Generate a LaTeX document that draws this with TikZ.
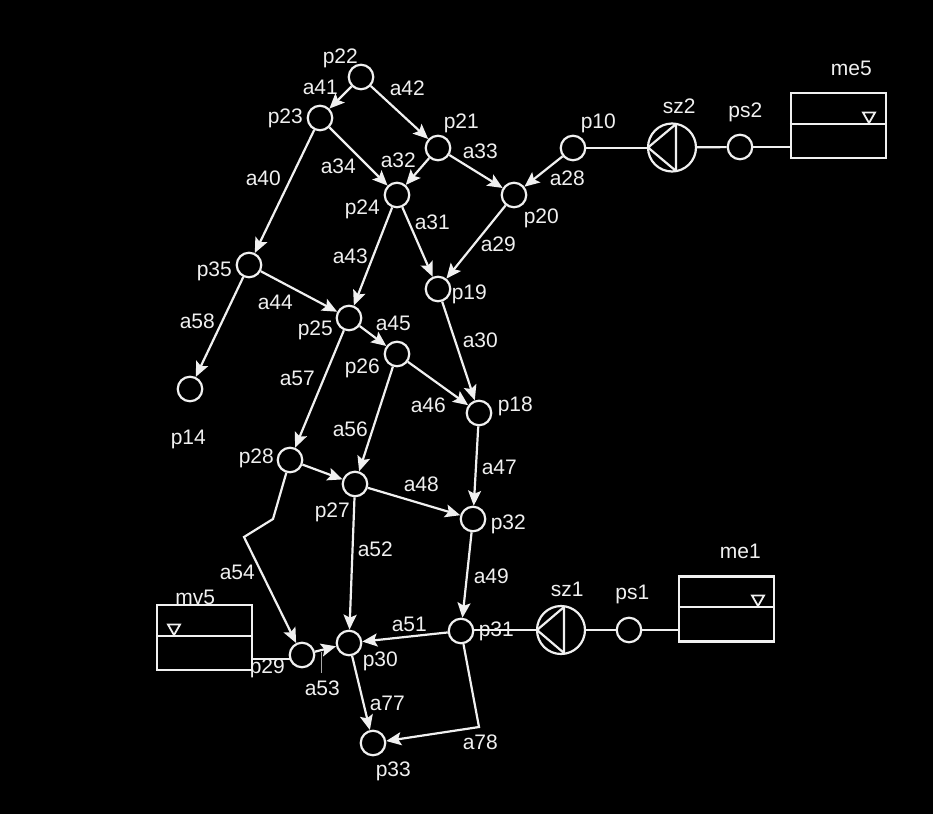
\documentclass[tikz,border=0pt]{standalone}
\usepackage{fontspec}
\setmainfont{Liberation Sans}
\usetikzlibrary{arrows.meta}
\definecolor{ink}{RGB}{240,240,240}
\tikzset{
  place/.style={circle,draw=ink,line width=2.2pt,minimum size=24.5pt,inner sep=0pt},
  pump/.style={circle,draw=ink,line width=2.2pt,minimum size=48pt,inner sep=0pt},
  tankbox/.style={draw=ink,line width=2.2pt,minimum width=95pt,minimum height=65pt,inner sep=0pt},
  flow/.style={draw=ink,line width=2.2pt,-{Stealth[length=15pt,width=13pt,inset=3pt]}},
  wire/.style={draw=ink,line width=2.2pt},
  thin tick/.style={draw=ink!70!black,line width=0.8pt},
  lab/.style={text=ink,font=\fontsize{21}{23}\selectfont,inner sep=0pt,anchor=base}
}
\newcommand{\lb}[3]{\node[lab] (t#1) at (#2+0.3,#3+7) {#1};}
\begin{document}
\begin{tikzpicture}[x=1pt,y=-1pt]
\fill[black] (0,0) rectangle (933,814);
\useasboundingbox (0,0) rectangle (933,814);
% places
\foreach \n/\x/\y in {p22/361/77,p23/320/118,p21/438/148,p24/397/195,p20/514/195,p10/573/148,p35/249/265,p19/438/289,p25/349/318,p26/397/354,p14/190/389,p18/479/413,p28/290/460,p27/355/484,p32/473/519,p31/461/631,p30/349/643,p29/302/655,p33/373/743,ps2/740/147,ps1/629/630}
  \node[place] (\n) at (\x,\y) {};
% pumps
\node[pump] (sz2) at (672,147.5) {};
\node[pump] (sz1) at (561,630) {};
\coordinate (sz2tip) at (648,148);
\coordinate (sz1tip) at (537,630);
\draw[wire,line join=round] (648,147.5) -- (676,124) -- (676,171) -- cycle;
\draw[wire,line join=round] (sz1tip) -- (564,607) -- (564,653) -- cycle;
% tanks
\node[tankbox] (me5) at (838.5,125.5) {};
\node[tankbox] (me1) at (726.5,609) {};
\node[tankbox] (mv5) at (204.5,637.5) {};
\draw[wire] (me5.west |- 0,124) -- (me5.east |- 0,124);
\draw[wire] (me1.west |- 0,607) -- (me1.east |- 0,607);
\draw[wire] (mv5.west |- 0,636) -- (mv5.east |- 0,636);
\draw[draw=ink,line width=1.8pt,line join=miter] (863,112.5) -- (875,112.5) -- (869,123) -- cycle;
\draw[draw=ink,line width=1.8pt,line join=miter] (752,595.5) -- (764,595.5) -- (758,606) -- cycle;
\draw[draw=ink,line width=1.8pt,line join=miter] (168,624.5) -- (180,624.5) -- (174,635) -- cycle;
% plain connectors
\draw[wire] (p10) -- (sz2tip);
\draw[wire] (sz2) -- (ps2);
\draw[wire] (ps2) -- (me5.west |- ps2);
\draw[wire] (p31.east |- sz1tip) -- (sz1tip);
\draw[wire] (sz1) -- (ps1);
\draw[wire] (ps1) -- (me1.west |- ps1);
\coordinate (mv5out) at (252,659);
\coordinate (p29in) at (290.6,659);
\draw[wire] (mv5out) -- (p29in);
% arcs
\foreach \a/\b in {p22/p23,p22/p21,p23/p24,p23/p35,p21/p24,p21/p20,p10/p20,p24/p25,p24/p19,p20/p19,p35/p25,p35/p14,p25/p26,p25/p28,p26/p18,p26/p27,p19/p18,p18/p32,p28/p27,p27/p32,p27/p30,p32/p31,p31/p30,p30/p33,p29/p30}
  \draw[flow] (\a) -- (\b);
\draw[flow] (p28) -- (273,519) -- (244,537) -- (p29);
\draw[flow] (p31) -- (479,727) -- (p33);
% a53 leader
\coordinate (tickA) at (321,652);
\coordinate (tickB) at (321,673);
\draw[thin tick] (tickA) -- (tickB);
% labels
\foreach \t/\x/\y in {p22/340/56,a41/320/87,a42/407/88,p23/285/116,p21/461/121,a33/480/151,a32/398/160,a34/338/166,a40/263/178,p10/598/121,sz2/679/106,ps2/745/110,me5/851/68,a28/567/178,p20/541/216,p24/362/207,a31/432/222,a29/498/244,a43/350/256,p35/214/269,p19/469/292,a44/275/302,a58/197/321,p25/315/328,a45/393/323,a30/480/340,p26/362/366,a57/297/378,a46/428/405,p18/515/404,p14/188/437,a56/350/429,p28/256/456,a47/499/467,a48/421/484,p27/332/510,p32/508/522,a52/375/549,a54/237/572,a49/491/576,sz1/567/589,ps1/632/592,me1/740/551,mv5/195/597,a51/409/624,p31/496/629,p30/380/659,p29/267/666,a53/322/688,a77/387/703,a78/480/742,p33/393/769}
  {\lb{\t}{\x}{\y}}
\end{tikzpicture}
\end{document}
